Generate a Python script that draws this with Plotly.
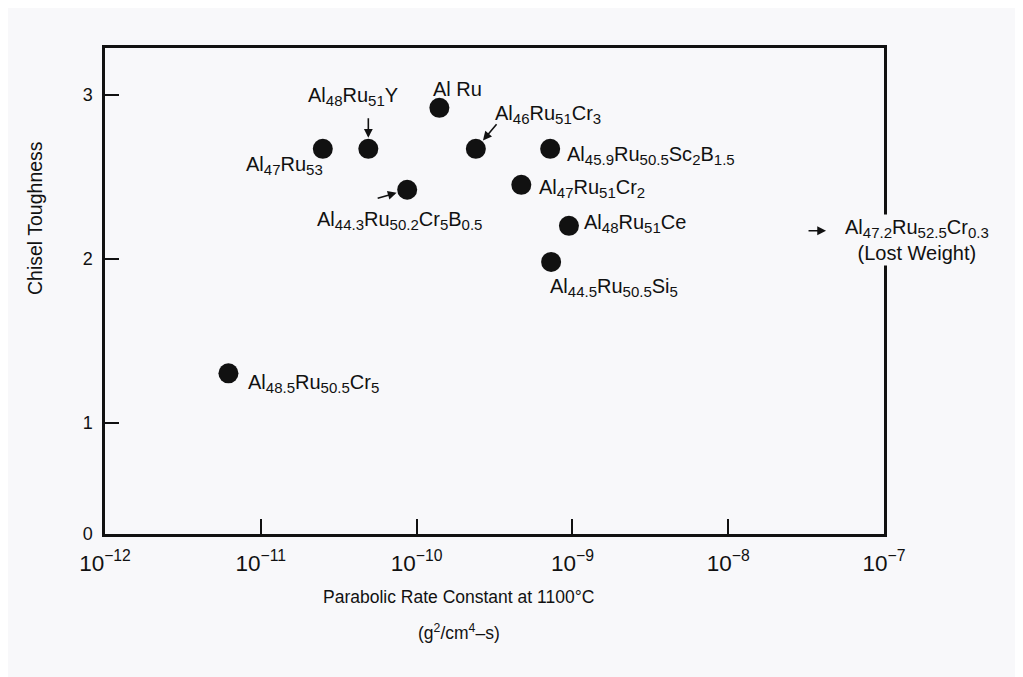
import plotly.graph_objects as go
import math

# ---------------- data ----------------
alloys = [
    "Al<sub>48.5</sub>Ru<sub>50.5</sub>Cr<sub>5</sub>",
    "Al<sub>47</sub>Ru<sub>53</sub>",
    "Al<sub>48</sub>Ru<sub>51</sub>Y",
    "Al<sub>44.3</sub>Ru<sub>50.2</sub>Cr<sub>5</sub>B<sub>0.5</sub>",
    "Al Ru",
    "Al<sub>46</sub>Ru<sub>51</sub>Cr<sub>3</sub>",
    "Al<sub>47</sub>Ru<sub>51</sub>Cr<sub>2</sub>",
    "Al<sub>45.9</sub>Ru<sub>50.5</sub>Sc<sub>2</sub>B<sub>1.5</sub>",
    "Al<sub>44.5</sub>Ru<sub>50.5</sub>Si<sub>5</sub>",
    "Al<sub>48</sub>Ru<sub>51</sub>Ce",
]
rate_constant = [6.2e-12, 2.5e-11, 4.9e-11, 8.7e-11, 1.4e-10, 2.4e-10, 4.7e-10, 7.2e-10, 7.3e-10, 9.5e-10]
toughness = [1.30, 2.67, 2.67, 2.42, 2.92, 2.67, 2.45, 2.67, 1.98, 2.20]

off_chart_label = "Al<sub>47.2</sub>Ru<sub>52.5</sub>Cr<sub>0.3</sub><br>(Lost Weight)"
off_chart_toughness = 2.17

x_range_log = [-12, -7]
# The source chart's y axis is compressed (broken) below 1: its floor is labelled 0.
y_floor = 0.32
y_top = 3.285
y_tick_vals = [y_floor, 1, 2, 3]
y_tick_text = ["0", "1", "2", "3"]

x_title_lines = ["Parabolic Rate Constant at 1100°C", "(g<sup>2</sup>/cm<sup>4</sup>–s)"]
y_title = "Chisel Toughness"

# ---------------- label placement (style) ----------------
label_pos = [
    dict(xanchor="left", xshift=18, yshift=-10),
    dict(xanchor="right", xshift=2, yshift=-17),
    dict(xanchor="center", xshift=-15, yshift=52),
    dict(xanchor="center", xshift=-8, yshift=-31),
    dict(xanchor="center", xshift=18, yshift=19),
    dict(xanchor="left", xshift=17, yshift=34),
    dict(xanchor="left", xshift=16, yshift=-4),
    dict(xanchor="left", xshift=15, yshift=-7),
    dict(xanchor="left", xshift=-3, yshift=-26),
    dict(xanchor="left", xshift=13, yshift=2),
]
arrows = [  # (point index, tail dx px, tail dy px)
    (2, 0, -32),
    (5, 22, -26),
    (3, -31, 9),
]

BG = "#f8f8fa"
FONT = "Liberation Sans, Arial, Helvetica, sans-serif"
INK = "#111111"
SUB_PX = 15


def styled(label):
    """Enlarge subscripts a little, as in the source typesetting."""
    return (label.replace("<sub>", f"<sub><span style='font-size:{SUB_PX}px'>")
                 .replace("</sub>", "</span></sub>"))


fig = go.Figure()
fig.add_trace(go.Scatter(
    x=rate_constant, y=toughness, mode="markers",
    marker=dict(size=20, color=INK, line=dict(width=0)),
    showlegend=False, hoverinfo="skip",
))

annotations = []
for name, xv, yv, pos in zip(alloys, rate_constant, toughness, label_pos):
    annotations.append(dict(
        x=math.log10(xv), y=yv, xref="x", yref="y", text=styled(name), showarrow=False,
        yanchor="middle", font=dict(size=20, color=INK, family=FONT), **pos,
    ))
for idx, dx, dy in arrows:
    annotations.append(dict(
        x=math.log10(rate_constant[idx]), y=toughness[idx], xref="x", yref="y",
        text="", showarrow=True, ax=dx, ay=dy, arrowhead=2, arrowsize=1.1,
        arrowwidth=1.6, arrowcolor=INK, standoff=11,
    ))

# off-chart (lost weight) sample
annotations.append(dict(
    x=-7.372, y=off_chart_toughness, xref="x", yref="y", text="", showarrow=True,
    ax=-19, ay=0, arrowhead=2, arrowsize=1.1, arrowwidth=1.6, arrowcolor=INK,
))
annotations.append(dict(
    x=0.947, y=off_chart_toughness, xref="paper", yref="y", text=styled(off_chart_label),
    showarrow=False, xanchor="left", yanchor="top", yshift=17, align="center",
    bgcolor=BG, font=dict(size=20, color=INK, family=FONT),
))

# axis titles (placed off-centre as in the source)
annotations.append(dict(
    x=-0.09, y=0.65, xref="paper", yref="paper", text=y_title, textangle=-90,
    showarrow=False, xanchor="center", yanchor="middle",
    font=dict(size=19.5, color=INK, family=FONT),
))
for line_text, ypos in zip(x_title_lines, [-0.1296, -0.2016]):
    annotations.append(dict(
        x=0.4544, y=ypos, xref="paper", yref="paper", text=line_text,
        showarrow=False, xanchor="center", yanchor="middle",
        font=dict(size=17.5, color=INK, family=FONT),
    ))

# the page adds an 8 px body margin at top/left; compensate so the plot frame
# lands where the reference has it
fig.update_layout(
    width=1015, height=669,
    margin=dict(l=97, r=139, t=40, b=143),
    paper_bgcolor=BG, plot_bgcolor=BG,
    font=dict(family=FONT, color=INK, size=18),
    annotations=annotations,
    xaxis=dict(
        type="log", range=x_range_log, dtick=1, exponentformat="power",
        showgrid=False, zeroline=False, showline=True, mirror=True,
        linecolor=INK, linewidth=2.5, ticks="inside", ticklen=15, tickwidth=2,
        tickcolor=INK, tickfont=dict(size=18, family=FONT, color=INK),
        ticklabelstandoff=8,
    ),
    yaxis=dict(
        range=[y_floor, y_top], tickvals=y_tick_vals, ticktext=y_tick_text,
        showgrid=False, zeroline=False, showline=True, mirror=True,
        linecolor=INK, linewidth=2.5, ticks="inside", ticklen=14, tickwidth=2,
        tickcolor=INK, tickfont=dict(size=18, family=FONT, color=INK),
        ticklabelstandoff=6,
    ),
)

fig.write_html("out.html")
